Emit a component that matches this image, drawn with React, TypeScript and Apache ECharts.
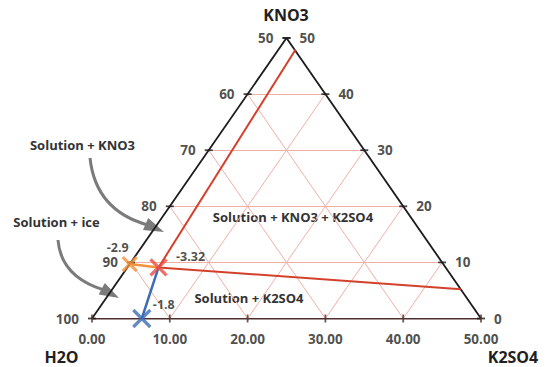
import React, { useEffect, useRef } from "react";
import * as echarts from "echarts";

// Compositions are [K2SO4 %, KNO3 %]; H2O makes up the rest.
const gridSteps = [10, 20, 30, 40];
const kno3TickValues = [0, 10, 20, 30, 40, 50];
const h2oTickLabels = ["100", "90", "80", "70", "60", "50"];
const kno3TickLabels = ["0", "10", "20", "30", "40", "50"];
const k2so4TickValues = [0, 10, 20, 30, 40, 50];
const k2so4TickLabels = ["0.00", "10.00", "20.00", "30.00", "40.00", "50.00"];

// Invariant points and the boundaries leaving them
const iceK2so4Point = [6.4, 0];
const iceKno3Point = [0, 9.7];
const ternaryPoint = [4.0, 9.1];
const kno3BoundaryEnd = [2.2, 47.9];
const k2so4BoundaryEnd = [44.8, 5.2];
const pointTemps = ["-1.8", "-2.9", "-3.32"];

const FONT = "'Open Sans', 'DejaVu Sans', sans-serif";
const INK = "#231f20";

// Map a composition onto the triangle's plane (apex sits above K2SO4 = 25).
const toXY = (p: number[]) => [p[0] + p[1] / 2, p[1]];

function buildOption() {
  const gridLines: { coords: number[][] }[] = [];
  gridSteps.forEach((c) => {
    gridLines.push({ coords: [toXY([0, c]), toXY([50 - c, c])] });
    gridLines.push({ coords: [toXY([c, 0]), toXY([c, 50 - c])] });
    gridLines.push({ coords: [toXY([c, 0]), toXY([0, c])] });
  });

  const leftTicks = kno3TickValues.map((n, i) => ({
    value: toXY([0, n]),
    label: { formatter: h2oTickLabels[i] },
  }));
  const rightTicks = kno3TickValues.map((n, i) => ({
    value: toXY([50 - n, n]),
    label: { formatter: kno3TickLabels[i] },
  }));
  const bottomTicks = k2so4TickValues.map((k, i) => ({
    value: toXY([k, 0]),
    label: { formatter: k2so4TickLabels[i] },
  }));

  const tickLabel = {
    show: true,
    fontFamily: FONT,
    fontWeight: "bold" as const,
    fontSize: 13.5,
    color: INK,
  };

  const xMark = "path://M0,0L10,10M10,0L0,10";
  const markerLabel = {
    show: true,
    position: "inside" as const,
    fontFamily: FONT,
    fontWeight: "bold" as const,
    fontSize: 12.5,
    color: INK,
  };

  const boundary = (a: number[], b: number[], color: string, width: number, z: number) => ({
    type: "line",
    data: [toXY(a), toXY(b)],
    symbol: "none",
    lineStyle: { color, width },
    z,
    silent: true,
  });

  // Curved pointer arrows from the region captions
  const arrow = (
    start: number[],
    c1: number[],
    c2: number[],
    end: number[],
    tip: number[]
  ) => {
    const dx = tip[0] - end[0];
    const dy = tip[1] - end[1];
    const len = Math.hypot(dx, dy);
    const px = (-dy / len) * 6.5;
    const py = (dx / len) * 6.5;
    return [
      {
        type: "bezierCurve",
        shape: {
          x1: start[0], y1: start[1],
          cpx1: c1[0], cpy1: c1[1],
          cpx2: c2[0], cpy2: c2[1],
          x2: end[0], y2: end[1],
        },
        style: { stroke: "#7b7b7b", lineWidth: 3, fill: "none" },
      },
      {
        type: "polygon",
        shape: {
          points: [
            [end[0] + px - dx * 0.15, end[1] + py - dy * 0.15],
            tip,
            [end[0] - px - dx * 0.15, end[1] - py - dy * 0.15],
          ],
        },
        style: { fill: "#7b7b7b" },
      },
    ];
  };

  const caption = (text: string, x: number, y: number, size: number, color = "#333") => ({
    type: "text",
    x,
    y,
    style: {
      text,
      fontFamily: FONT,
      fontWeight: "bold",
      fontSize: size,
      fill: color,
      align: "center",
      verticalAlign: "middle",
    },
  });

  return {
    animation: false,
    grid: { left: 92, right: 68, top: 38, bottom: 48.5 },
    xAxis: { type: "value", min: 0, max: 50, show: false },
    yAxis: { type: "value", min: 0, max: 50, show: false },
    series: [
      {
        type: "lines",
        coordinateSystem: "cartesian2d",
        data: gridLines,
        lineStyle: { color: "#efb0a7", width: 1, opacity: 1 },
        z: 1,
        silent: true,
      },
      {
        type: "lines",
        coordinateSystem: "cartesian2d",
        data: [
          { coords: [toXY([0, 0]), toXY([0, 50])] },
          { coords: [toXY([0, 50]), toXY([50, 0])] },
        ],
        lineStyle: { color: "#1c1a1a", width: 1.8, opacity: 1 },
        z: 3,
        silent: true,
      },
      {
        type: "lines",
        coordinateSystem: "cartesian2d",
        data: [{ coords: [toXY([0, 0]), toXY([50, 0])] }],
        lineStyle: { color: "#4d302d", width: 2.2, opacity: 1 },
        z: 3,
        silent: true,
      },
      boundary(ternaryPoint, kno3BoundaryEnd, "#d3412b", 2, 4),
      boundary(ternaryPoint, k2so4BoundaryEnd, "#d3412b", 2, 4),
      boundary(iceKno3Point, ternaryPoint, "#f3923a", 2.5, 4),
      boundary(iceK2so4Point, ternaryPoint, "#3d6db5", 2.5, 4),
      {
        type: "scatter",
        data: leftTicks,
        symbol: "rect",
        symbolSize: [8, 1.8],
        itemStyle: { color: "#1c1a1a" },
        label: { ...tickLabel, position: "left", distance: 9 },
        z: 5,
        silent: true,
      },
      {
        type: "scatter",
        data: rightTicks,
        symbol: "rect",
        symbolSize: [8, 1.8],
        itemStyle: { color: "#1c1a1a" },
        label: { ...tickLabel, position: "right", distance: 9 },
        z: 5,
        silent: true,
      },
      {
        type: "scatter",
        data: bottomTicks,
        symbol: "rect",
        symbolSize: [1.8, 8],
        itemStyle: { color: "#4d302d" },
        label: { ...tickLabel, position: "bottom", distance: 9 },
        z: 5,
        silent: true,
      },
      {
        type: "scatter",
        data: [
          {
            value: toXY(iceK2so4Point),
            symbolSize: 17,
            itemStyle: { color: "none", borderColor: "#3d6db5", borderWidth: 3.2 },
            label: { ...markerLabel, formatter: pointTemps[0], offset: [22, -14] },
          },
          {
            value: toXY(iceKno3Point),
            symbolSize: 14,
            itemStyle: { color: "none", borderColor: "#f3923a", borderWidth: 3.2 },
            label: { ...markerLabel, formatter: pointTemps[1], offset: [-12, -17] },
          },
          {
            value: toXY(ternaryPoint),
            symbolSize: 16,
            itemStyle: { color: "none", borderColor: "#ec4a3c", borderWidth: 3.2 },
            label: { ...markerLabel, formatter: pointTemps[2], offset: [32, -11] },
          },
        ],
        symbol: xMark,
        z: 6,
        silent: true,
      },
    ],
    graphic: [
      caption("KNO3", 286, 15, 16, INK),
      caption("H2O", 61.5, 357, 16, INK),
      caption("K2SO4", 513, 357, 16, INK),
      caption("Solution + KNO3", 82.5, 145, 13),
      caption("Solution + ice", 56.5, 222, 13),
      caption("Solution + KNO3 + K2SO4", 293, 217, 13),
      caption("Solution + K2SO4", 249, 298, 13),
      ...arrow([90, 158], [94, 195], [115, 216], [148, 225], [164, 232]),
      ...arrow([58, 240], [60, 266], [78, 282], [104, 290], [119, 298]),
    ],
  };
}

export default function App() {
  const ref = useRef<HTMLDivElement>(null);
  useEffect(() => {
    if (!ref.current) return;
    const chart = echarts.init(ref.current, undefined, { renderer: "svg" });
    chart.setOption(buildOption() as any);
    return () => chart.dispose();
  }, []);
  return (
    <div
      ref={ref}
      style={{ position: "fixed", left: 0, top: 0, width: 549, height: 367, background: "#fff" }}
    />
  );
}
